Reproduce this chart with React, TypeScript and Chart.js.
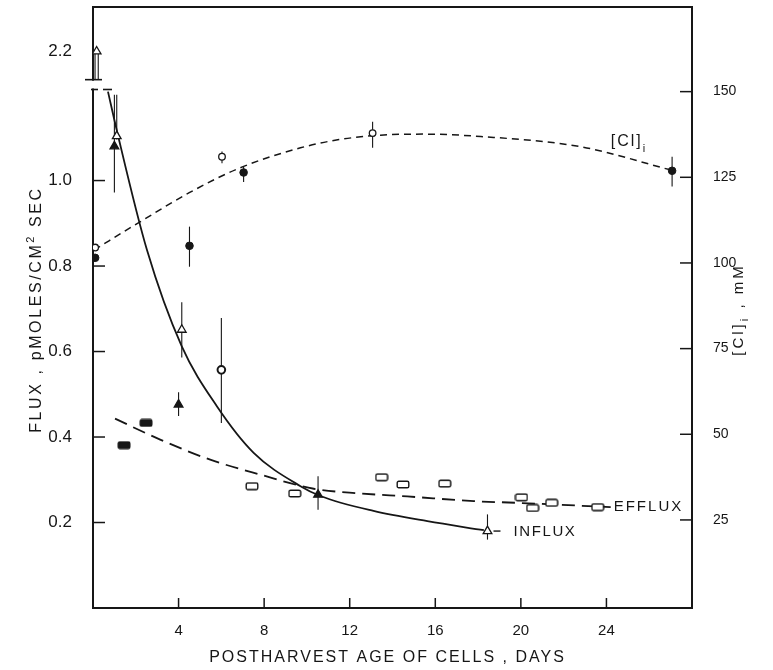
import React, { useEffect, useRef } from 'react';
import { Chart, registerables } from 'chart.js';

Chart.register(...registerables);

const FONT = "'Liberation Sans', Arial, sans-serif";
const INK = '#161616';

// ---------- axis ticks ----------
const dayTicks = [4, 8, 12, 16, 20, 24];
const fluxTicks = [0.2, 0.4, 0.6, 0.8, 1.0, 2.2];
const clTicks = [25, 50, 75, 100, 125, 150];

// broken flux axis: the 2.2 value is drawn just above the break
const BREAK_VALUE = 2.2;
const BREAK_POS = 1.302;
const breakGap = [1.213, 1.236];
const toAxis = (v: number) => (v > 1.5 ? v - (BREAK_VALUE - BREAK_POS) : v);
const fromAxis = (v: number) => (v > 1.25 ? v + (BREAK_VALUE - BREAK_POS) : v);

// ---------- INFLUX (triangles) ----------
const influxOpenDays = [0.17, 1.11, 4.15, 18.44];
const influxOpenFlux = [2.2, 1.104, 0.651, 0.18];
const influxOpenLo = [2.134, 1.096, 0.586, 0.16];
const influxOpenHi = [2.2, 1.201, 0.715, 0.219];

const influxFilledDays = [1.0, 4.0, 10.52];
const influxFilledFlux = [1.08, 0.476, 0.265];
const influxFilledLo = [0.972, 0.449, 0.23];
const influxFilledHi = [1.201, 0.505, 0.308];

const influxCurveDays = [0.7, 1.1, 2.52, 4.15, 5.79, 7.51, 9.7, 10.63, 13.11, 15.63, 18.27];
const influxCurveFlux = [1.208, 1.12, 0.838, 0.612, 0.472, 0.363, 0.285, 0.262, 0.227, 0.203, 0.182];

// ---------- EFFLUX (rectangles) ----------
const effluxFilledDays = [1.45, 2.48];
const effluxFilledFlux = [0.381, 0.433];
const effluxOpenDays = [7.43, 9.43, 13.49, 14.49, 16.44, 20.03, 20.55, 21.44, 23.59];
const effluxOpenFlux = [0.285, 0.268, 0.306, 0.289, 0.291, 0.259, 0.234, 0.246, 0.236];

const effluxCurveDays = [1.03, 3.14, 5.48, 7.82, 10.32, 12.5, 14.69, 17.81, 19.85, 24.2];
const effluxCurveFlux = [0.443, 0.394, 0.347, 0.312, 0.279, 0.268, 0.261, 0.25, 0.246, 0.236];

// ---------- [Cl]i (circles, mM) ----------
const clOpenDays = [0.1, 6.03, 13.07];
const clOpenMM = [104.5, 131.0, 137.9];
const clOpenLo = [null, 129.1, 133.6];
const clOpenHi = [null, 132.5, 141.2];

const clFilledDays = [0.1, 4.51, 7.04, 27.07];
const clFilledMM = [101.5, 105.0, 126.4, 126.9];
const clFilledLo = [null, 98.9, 123.6, 122.3];
const clFilledHi = [null, 110.6, 128.0, 131.0];

const clRingDays = [6.0];
const clRingMM = [68.8];
const clRingLo = [53.3];
const clRingHi = [83.9];

const clCurveDays = [0.05, 2.2, 4.5, 6.89, 9.7, 11.5, 13.44, 15.5, 18.13, 22.81, 27.03];
const clCurveMM = [103.8, 112.0, 120.5, 127.8, 133.6, 136.0, 137.3, 137.6, 136.9, 133.9, 127.1];

// label anchor for [Cl]i text (day, mM)
const clLabelAnchor = [24.2, 135.5];

type Part = { t: string; s: number; dy?: number };

function drawSpaced(ctx: CanvasRenderingContext2D, parts: Part[], x: number, y: number, ls: number, align: 'center' | 'left' = 'center') {
  ctx.save();
  (ctx as any).letterSpacing = ls + 'px';
  ctx.textBaseline = 'middle';
  ctx.textAlign = 'left';
  ctx.fillStyle = INK;
  const widths = parts.map((p) => {
    ctx.font = `${p.s}px ${FONT}`;
    return ctx.measureText(p.t).width;
  });
  const total = widths.reduce((a, b) => a + b, 0);
  let cx = align === 'center' ? x - total / 2 : x;
  parts.forEach((p, i) => {
    ctx.font = `${p.s}px ${FONT}`;
    ctx.fillText(p.t, cx, y + (p.dy || 0));
    cx += widths[i];
  });
  ctx.restore();
}

function rectMarker(filled: boolean): HTMLCanvasElement {
  const c = document.createElement('canvas');
  c.width = 14;
  c.height = 9;
  const g = c.getContext('2d')!;
  g.lineWidth = 1.4;
  g.strokeStyle = INK;
  g.fillStyle = filled ? INK : '#ffffff';
  g.beginPath();
  (g as any).roundRect(1.2, 1.2, 11.6, 6.6, 1.6);
  g.fill();
  g.stroke();
  return c;
}

const noPad = (s: any) => {
  s.paddingTop = 0;
  s.paddingBottom = 0;
  s.paddingLeft = 0;
  s.paddingRight = 0;
};

const decor = {
  id: 'decor',
  beforeDatasetsDraw(chart: any) {
    const ctx: CanvasRenderingContext2D = chart.ctx;
    const xs = chart.scales.x;
    ctx.save();
    ctx.strokeStyle = INK;
    ctx.lineWidth = 1.1;
    chart.data.datasets.forEach((ds: any) => {
      if (!ds.errLo) return;
      const ys = chart.scales[ds.yAxisID];
      ds.data.forEach((p: any, i: number) => {
        const lo = ds.errLo[i];
        const hi = ds.errHi[i];
        if (lo == null || hi == null) return;
        const px = xs.getPixelForValue(p.x);
        const yl = ys.getPixelForValue(lo);
        const yh = ys.getPixelForValue(hi);
        ctx.beginPath();
        if (p.y > 1.25 && ds.yAxisID === 'y') {
          ctx.moveTo(px - 1.6, yh);
          ctx.lineTo(px - 1.6, yl);
          ctx.moveTo(px + 1.6, yh);
          ctx.lineTo(px + 1.6, yl);
        } else {
          ctx.moveTo(px, yh);
          ctx.lineTo(px, yl);
        }
        ctx.stroke();
      });
    });
    ctx.restore();
  },
  afterDraw(chart: any) {
    const ctx: CanvasRenderingContext2D = chart.ctx;
    const a = chart.chartArea;
    const xs = chart.scales.x;
    const ys = chart.scales.y;
    const y2 = chart.scales.y2;
    const line = (x1: number, y1: number, x2: number, yy2: number) => {
      ctx.beginPath();
      ctx.moveTo(x1, y1);
      ctx.lineTo(x2, yy2);
      ctx.stroke();
    };
    ctx.save();
    ctx.strokeStyle = INK;
    ctx.lineWidth = 2;
    line(a.left - 1, a.top, a.right + 1, a.top);
    ctx.lineWidth = 1.5;
    fluxTicks.filter((v) => v < 1.5).forEach((v) => {
      const y = ys.getPixelForValue(v);
      line(a.left, y, a.left + 12, y);
    });
    clTicks.forEach((v) => {
      const y = y2.getPixelForValue(v);
      line(a.right - 12, y, a.right, y);
    });
    dayTicks.forEach((v) => {
      const x = xs.getPixelForValue(v);
      line(x, a.bottom, x, a.bottom - 10);
    });
    // axis break
    const yLow = ys.getPixelForValue(breakGap[0]);
    const yHigh = ys.getPixelForValue(breakGap[1]);
    ctx.fillStyle = '#ffffff';
    ctx.fillRect(a.left - 3, yHigh + 1, 6, yLow - yHigh - 2);
    ctx.lineWidth = 1.6;
    line(a.left - 8, yHigh, a.left + 9, yHigh);
    line(a.left - 2, yLow, a.left + 5, yLow);
    const cx0 = xs.getPixelForValue(influxCurveDays[0]);
    line(cx0 - 5, yLow, cx0 + 4, yLow);

    // axis titles
    const midY = (a.top + a.bottom) / 2 + 2;
    ctx.save();
    ctx.translate(a.left - 56, midY);
    ctx.rotate(-Math.PI / 2);
    drawSpaced(ctx, [{ t: 'FLUX , pMOLES/CM', s: 16 }, { t: '2', s: 11, dy: -6 }, { t: ' SEC', s: 16 }], 0, 0, 2.6);
    ctx.restore();

    ctx.save();
    ctx.translate(a.right + 47, midY);
    ctx.rotate(-Math.PI / 2);
    drawSpaced(ctx, [{ t: '[Cl]', s: 15 }, { t: 'i', s: 11, dy: 6 }, { t: ' , mM', s: 15 }], 0, 0, 3);
    ctx.restore();

    drawSpaced(ctx, [{ t: 'POSTHARVEST AGE OF CELLS , DAYS', s: 16 }], (a.left + a.right) / 2 - 5, a.bottom + 50, 2);

    // curve labels
    const ex = xs.getPixelForValue(effluxCurveDays[effluxCurveDays.length - 1]);
    const ey = ys.getPixelForValue(effluxCurveFlux[effluxCurveFlux.length - 1]);
    drawSpaced(ctx, [{ t: 'EFFLUX', s: 15 }], ex + 3, ey, 2, 'left');

    const ix = xs.getPixelForValue(influxOpenDays[3]);
    const iy = ys.getPixelForValue(influxOpenFlux[3]);
    ctx.lineWidth = 1.4;
    line(ix + 6, iy, ix + 13, iy);
    drawSpaced(ctx, [{ t: 'INFLUX', s: 15 }], ix + 26, iy + 1, 1.6, 'left');

    const lx = xs.getPixelForValue(clLabelAnchor[0]);
    const ly = y2.getPixelForValue(clLabelAnchor[1]);
    drawSpaced(ctx, [{ t: '[Cl]', s: 16 }, { t: 'i', s: 11, dy: 8 }], lx, ly, 2, 'left');
    ctx.restore();
  },
};

const pts = (xs: number[], ys: number[], f: (v: number) => number = (v) => v) =>
  xs.map((x, i) => ({ x, y: f(ys[i]) }));

export default function App() {
  const ref = useRef<HTMLCanvasElement>(null);

  useEffect(() => {
    if (!ref.current) return;
    const openRect = rectMarker(false);
    const filledRect = rectMarker(true);
    const base = { showLine: false, borderColor: INK, order: 0 };
    const chart = new Chart(ref.current, {
      type: 'scatter',
      data: {
        datasets: [
          {
            ...base, label: 'Influx (open)', yAxisID: 'y',
            data: pts(influxOpenDays, influxOpenFlux, toAxis),
            errLo: influxOpenLo.map(toAxis), errHi: influxOpenHi.map(toAxis),
            pointStyle: 'triangle', pointRadius: 5, backgroundColor: '#ffffff', borderWidth: 1.3,
          } as any,
          {
            ...base, label: 'Influx (filled)', yAxisID: 'y',
            data: pts(influxFilledDays, influxFilledFlux),
            errLo: influxFilledLo, errHi: influxFilledHi,
            pointStyle: 'triangle', pointRadius: 5, backgroundColor: INK, borderWidth: 1.3,
          } as any,
          {
            ...base, label: 'Efflux (open)', yAxisID: 'y',
            data: pts(effluxOpenDays, effluxOpenFlux),
            pointStyle: openRect, pointRadius: 6,
          } as any,
          {
            ...base, label: 'Efflux (filled)', yAxisID: 'y',
            data: pts(effluxFilledDays, effluxFilledFlux),
            pointStyle: filledRect, pointRadius: 6,
          } as any,
          {
            ...base, label: '[Cl]i (open)', yAxisID: 'y2',
            data: pts(clOpenDays, clOpenMM),
            errLo: clOpenLo, errHi: clOpenHi,
            pointStyle: 'circle', pointRadius: 3.3, backgroundColor: '#ffffff', borderWidth: 1.3,
          } as any,
          {
            ...base, label: '[Cl]i (filled)', yAxisID: 'y2',
            data: pts(clFilledDays, clFilledMM),
            errLo: clFilledLo, errHi: clFilledHi,
            pointStyle: 'circle', pointRadius: 3.8, backgroundColor: INK, borderWidth: 1,
          } as any,
          {
            ...base, label: '[Cl]i (ring)', yAxisID: 'y2',
            data: pts(clRingDays, clRingMM),
            errLo: clRingLo, errHi: clRingHi,
            pointStyle: 'circle', pointRadius: 3.8, backgroundColor: '#ffffff', borderWidth: 2,
          } as any,
          {
            label: 'Influx curve', yAxisID: 'y', order: 1,
            data: pts(influxCurveDays, influxCurveFlux),
            showLine: true, pointRadius: 0, borderColor: INK, borderWidth: 1.8,
            cubicInterpolationMode: 'monotone',
          } as any,
          {
            label: 'Efflux curve', yAxisID: 'y', order: 1,
            data: pts(effluxCurveDays, effluxCurveFlux),
            showLine: true, pointRadius: 0, borderColor: INK, borderWidth: 1.8,
            borderDash: [13, 7], cubicInterpolationMode: 'monotone',
          } as any,
          {
            label: '[Cl]i curve', yAxisID: 'y2', order: 1,
            data: pts(clCurveDays, clCurveMM),
            showLine: true, pointRadius: 0, borderColor: INK, borderWidth: 1.5,
            borderDash: [7, 5], cubicInterpolationMode: 'monotone',
          } as any,
        ],
      },
      options: {
        responsive: false,
        animation: false,
        devicePixelRatio: 1,
        layout: { padding: { top: 7, left: 0, right: 0, bottom: 0 } },
        plugins: { legend: { display: false }, tooltip: { enabled: false } },
        scales: {
          x: {
            type: 'linear', position: 'bottom', min: 0, max: 28,
            grid: { display: false },
            border: { display: true, color: INK, width: 2 },
            ticks: { padding: 6, color: INK, font: { size: 15, family: FONT }, autoSkip: false, maxRotation: 0 },
            afterBuildTicks: (s: any) => { s.ticks = dayTicks.map((v) => ({ value: v })); },
            afterFit: (s: any) => { s.height = 62; noPad(s); },
          },
          y: {
            type: 'linear', position: 'left', min: 0, max: 1.406,
            grid: { display: false },
            border: { display: true, color: INK, width: 2 },
            ticks: {
              padding: 13, color: INK, font: { size: 17, family: FONT }, autoSkip: false,
              callback: (v: any) => fromAxis(Number(v)).toFixed(1),
            },
            afterBuildTicks: (s: any) => { s.ticks = fluxTicks.map((v) => ({ value: toAxis(v) })); },
            afterFit: (s: any) => { s.width = 93; noPad(s); },
          },
          y2: {
            type: 'linear', position: 'right', min: -0.7, max: 174.7,
            grid: { display: false },
            border: { display: true, color: INK, width: 2 },
            ticks: { padding: 13, color: INK, font: { size: 14, family: FONT }, autoSkip: false },
            afterBuildTicks: (s: any) => { s.ticks = clTicks.map((v) => ({ value: v })); },
            afterFit: (s: any) => { s.width = 81; noPad(s); },
          },
        },
      } as any,
      plugins: [decor],
    });
    return () => chart.destroy();
  }, []);

  return (
    <div style={{ position: 'absolute', left: 0, top: 0, width: 773, height: 670, background: '#ffffff' }}>
      <canvas ref={ref} width={773} height={670} style={{ width: 773, height: 670, display: 'block' }} />
    </div>
  );
}
